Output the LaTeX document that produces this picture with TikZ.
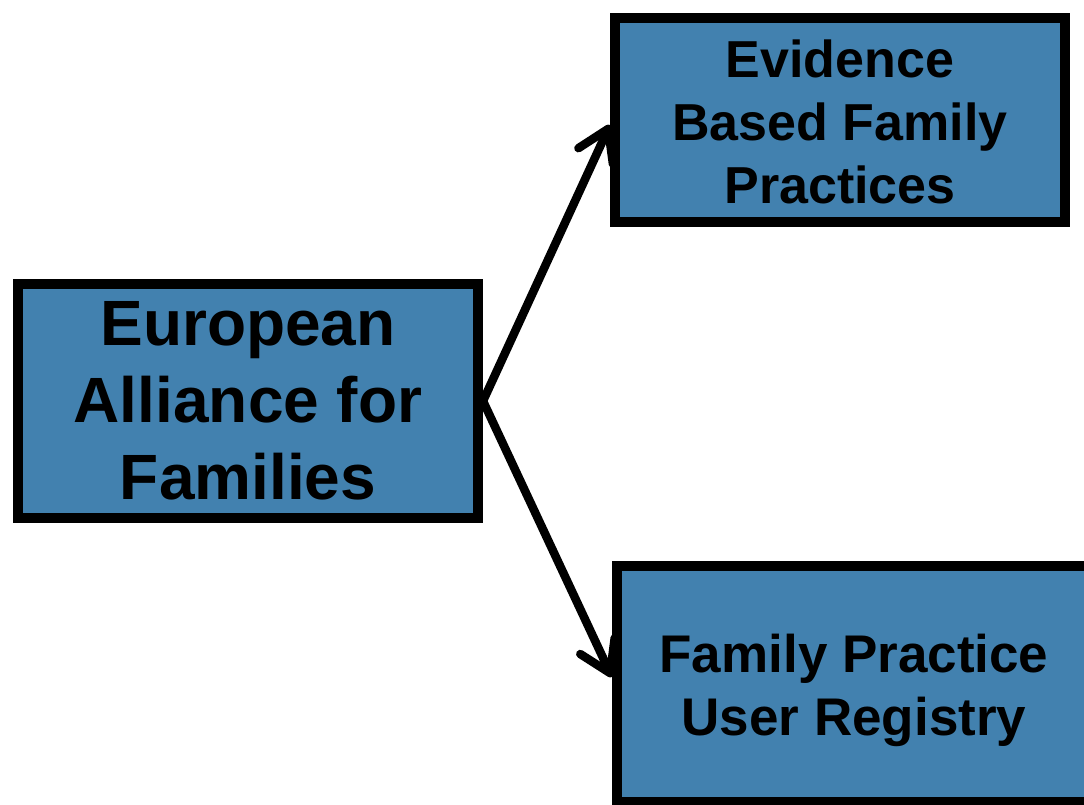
\documentclass[tikz,border=0pt]{standalone}
\usepackage{fontspec}
\setmainfont{Liberation Sans}
\usetikzlibrary{arrows.meta}
\definecolor{boxblue}{RGB}{66,129,175}
\newcommand{\lowered}[3]{\raisebox{-#1}[\height][\depth]{\parbox{#2}{\centering #3}}}
\begin{document}
\begin{tikzpicture}[x=1pt,y=-1pt,
  box/.style={draw=black, line width=10pt, fill=boxblue, inner sep=0pt, align=center, font=\bfseries},
  conn/.style={line width=8.5pt, line cap=round, -{Straight Barb[length=30pt,width=38pt,round]}}]
\useasboundingbox (0,0) rectangle (1084,804);
\clip (0,0) rectangle (1084,804);
\node[box, minimum width=460pt, minimum height=234pt, font=\bfseries\fontsize{64}{77}\selectfont] (left) at (248,401) {European\\Alliance for\\Families};
\node[box, minimum width=450pt, minimum height=204pt, font=\bfseries\fontsize{52}{63}\selectfont] (top) at (840,120) {\lowered{2pt}{450pt}{Evidence\\Based Family\\Practices}};
\node[box, minimum width=474pt, minimum height=236pt, font=\bfseries\fontsize{53}{63}\selectfont] (bot) at (854,684) {\lowered{6pt}{474pt}{Family Practice\\User Registry}};
\coordinate (t1) at ([yshift=-5pt]top.west);
\coordinate (t2) at ([yshift=7pt]bot.west);
\draw[conn] (left.east) -- (t1);
\draw[conn] (left.east) -- (t2);
\end{tikzpicture}
\end{document}
